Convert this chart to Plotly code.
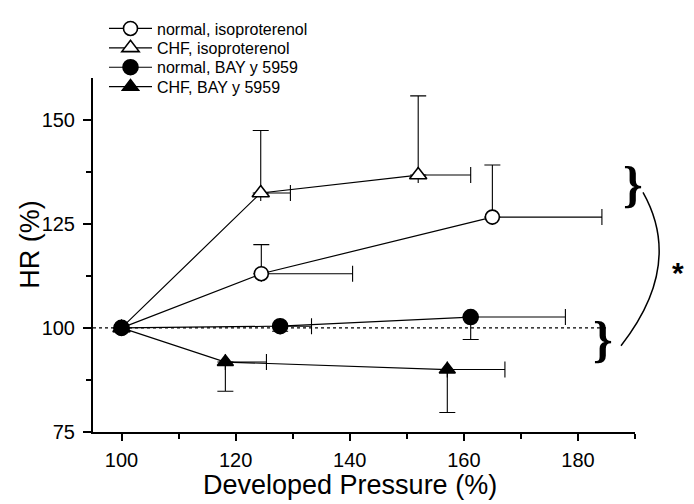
import plotly.graph_objects as go

# ---- data ----
names = ["normal, isoproterenol", "CHF, isoproterenol", "normal, BAY y 5959", "CHF, BAY y 5959"]
symbols = ["circle-open", "triangle-up-open", "circle", "triangle-up"]

dp_normal_iso = [100, 124.5, 165.0]
hr_normal_iso = [100, 113.0, 126.6]
dp_err_normal_iso = [0, 16.0, 19.2]
hr_errup_normal_iso = [0, 7.0, 12.5]
hr_errdn_normal_iso = [0, 0, 0]

dp_chf_iso = [100, 124.4, 152.0]
hr_chf_iso = [100, 132.4, 136.7]
dp_err_chf_iso = [0, 5.2, 9.2]
hr_errup_chf_iso = [0, 15.0, 19.0]
hr_errdn_chf_iso = [0, 0, 0]

dp_normal_bay = [100, 127.8, 161.2]
hr_normal_bay = [100, 100.4, 102.6]
dp_err_normal_bay = [0, 5.5, 16.6]
hr_errup_normal_bay = [0, 0, 0]
hr_errdn_normal_bay = [0, 1.2, 5.4]

dp_chf_bay = [100, 118.2, 157.1]
hr_chf_bay = [100, 91.8, 90.0]
dp_err_chf_bay = [0, 7.2, 10.1]
hr_errup_chf_bay = [0, 0, 0]
hr_errdn_chf_bay = [0, 7.0, 10.3]

x_ticks = [100, 120, 140, 160, 180]
y_ticks = [75, 100, 125, 150]
x_range = [95, 190]
y_range = [75, 160]
reference_hr = 100
reference_dp_end = 185.3

series = [
    (dp_normal_iso, hr_normal_iso, dp_err_normal_iso, hr_errup_normal_iso, hr_errdn_normal_iso),
    (dp_chf_iso, hr_chf_iso, dp_err_chf_iso, hr_errup_chf_iso, hr_errdn_chf_iso),
    (dp_normal_bay, hr_normal_bay, dp_err_normal_bay, hr_errup_normal_bay, hr_errdn_normal_bay),
    (dp_chf_bay, hr_chf_bay, dp_err_chf_bay, hr_errup_chf_bay, hr_errdn_chf_bay),
]
sizes = [14, 15, 15, 14]
legend_ids = ["legend", "legend2", "legend3", "legend4"]
legend_rows_px = [16, 36, 56, 76]

FONT = "Liberation Sans, Arial, sans-serif"
fig = go.Figure()

for (x, y, ex, eyu, eyd), name, sym, sz, lg in zip(series, names, symbols, sizes, legend_ids):
    filled = not sym.endswith("open")
    fig.add_trace(go.Scatter(
        x=x, y=y, name=name, mode="lines+markers", legend=lg,
        line=dict(color="black", width=1.2),
        marker=dict(symbol=sym.replace("-open", ""), size=sz,
                    color="black" if filled else "white",
                    line=dict(color="black", width=1.6)),
        error_x=dict(type="data", symmetric=False, array=ex, arrayminus=[0] * len(ex),
                     color="black", thickness=1.1, width=8),
        error_y=dict(type="data", symmetric=False, array=eyu, arrayminus=eyd,
                     color="black", thickness=1.1, width=8),
        cliponaxis=False,
    ))

# dotted reference line at 100 %
fig.add_shape(type="line", xref="x", yref="y", x0=x_range[0], x1=reference_dp_end,
              y0=reference_hr, y1=reference_hr,
              line=dict(color="black", width=1.3, dash="dot"), layer="below")

# plot area geometry in pixels (for the outside annotations)
L, R, T, B = 93, 635, 67, 432
def px(xp):
    return (xp - L) / (R - L)
def py(yp):
    return (B - yp) / (B - T)

# braces
for bx, by in [(633, 176), (603, 336)]:
    fig.add_annotation(x=px(bx), y=py(by), xref="paper", yref="paper", text="<b>}</b>",
                       showarrow=False, font=dict(family="Liberation Serif, serif", size=50, color="black"),
                       xanchor="center", yanchor="middle")
# arc
p0 = (px(643), py(185)); c = (px(684), py(260)); p2 = (px(621), py(343))
fig.add_shape(type="path", xref="paper", yref="paper",
              path=f"M {p0[0]},{p0[1]} Q {c[0]},{c[1]} {p2[0]},{p2[1]}",
              line=dict(color="black", width=1.5))
# asterisk
fig.add_annotation(x=px(678), y=py(268), xref="paper", yref="paper", text="<b>*</b>",
                   showarrow=False, font=dict(family=FONT, size=30, color="black"),
                   xanchor="center", yanchor="middle")

# axis titles
fig.add_annotation(x=px(350), y=py(487), xref="paper", yref="paper", text="Developed Pressure (%)",
                   showarrow=False, font=dict(family=FONT, size=27, color="black"),
                   xanchor="center", yanchor="middle")
fig.add_annotation(x=px(30), y=py(239), xref="paper", yref="paper", text="HR (%)",
                   showarrow=False, textangle=-90, font=dict(family=FONT, size=27, color="black"),
                   xanchor="center", yanchor="middle")

fig.update_xaxes(range=x_range, tickvals=x_ticks, showgrid=False, zeroline=False,
                 showline=True, linecolor="black", linewidth=2,
                 ticks="outside", ticklen=7, tickwidth=1.5, tickcolor="black",
                 minor=dict(dtick=10, tick0=100, ticks="outside", ticklen=5, tickwidth=1.5, tickcolor="black"),
                 tickfont=dict(family=FONT, size=20, color="black"), ticklabelstandoff=2)
fig.update_yaxes(range=y_range, tickvals=y_ticks, showgrid=False, zeroline=False,
                 showline=True, linecolor="black", linewidth=2,
                 ticks="outside", ticklen=8, tickwidth=1.5, tickcolor="black",
                 minor=dict(dtick=12.5, tick0=75, ticks="outside", ticklen=5, tickwidth=1.5, tickcolor="black"),
                 tickfont=dict(family=FONT, size=20, color="black"), ticklabelstandoff=4)

legend_common = dict(xanchor="left", yanchor="middle",
                     font=dict(family=FONT, size=16, color="black"),
                     bgcolor="rgba(0,0,0,0)", itemwidth=43, borderwidth=0)
layout_legends = {}
for lg, rowy in zip(legend_ids, legend_rows_px):
    layout_legends[lg] = dict(x=px(104), y=py(rowy), **legend_common)

fig.update_layout(
    width=694, height=504,
    margin=dict(l=L, r=694 - R, t=T, b=504 - B),
    plot_bgcolor="white", paper_bgcolor="white",
    showlegend=True,
    **layout_legends,
)

fig.write_html("out.html")
